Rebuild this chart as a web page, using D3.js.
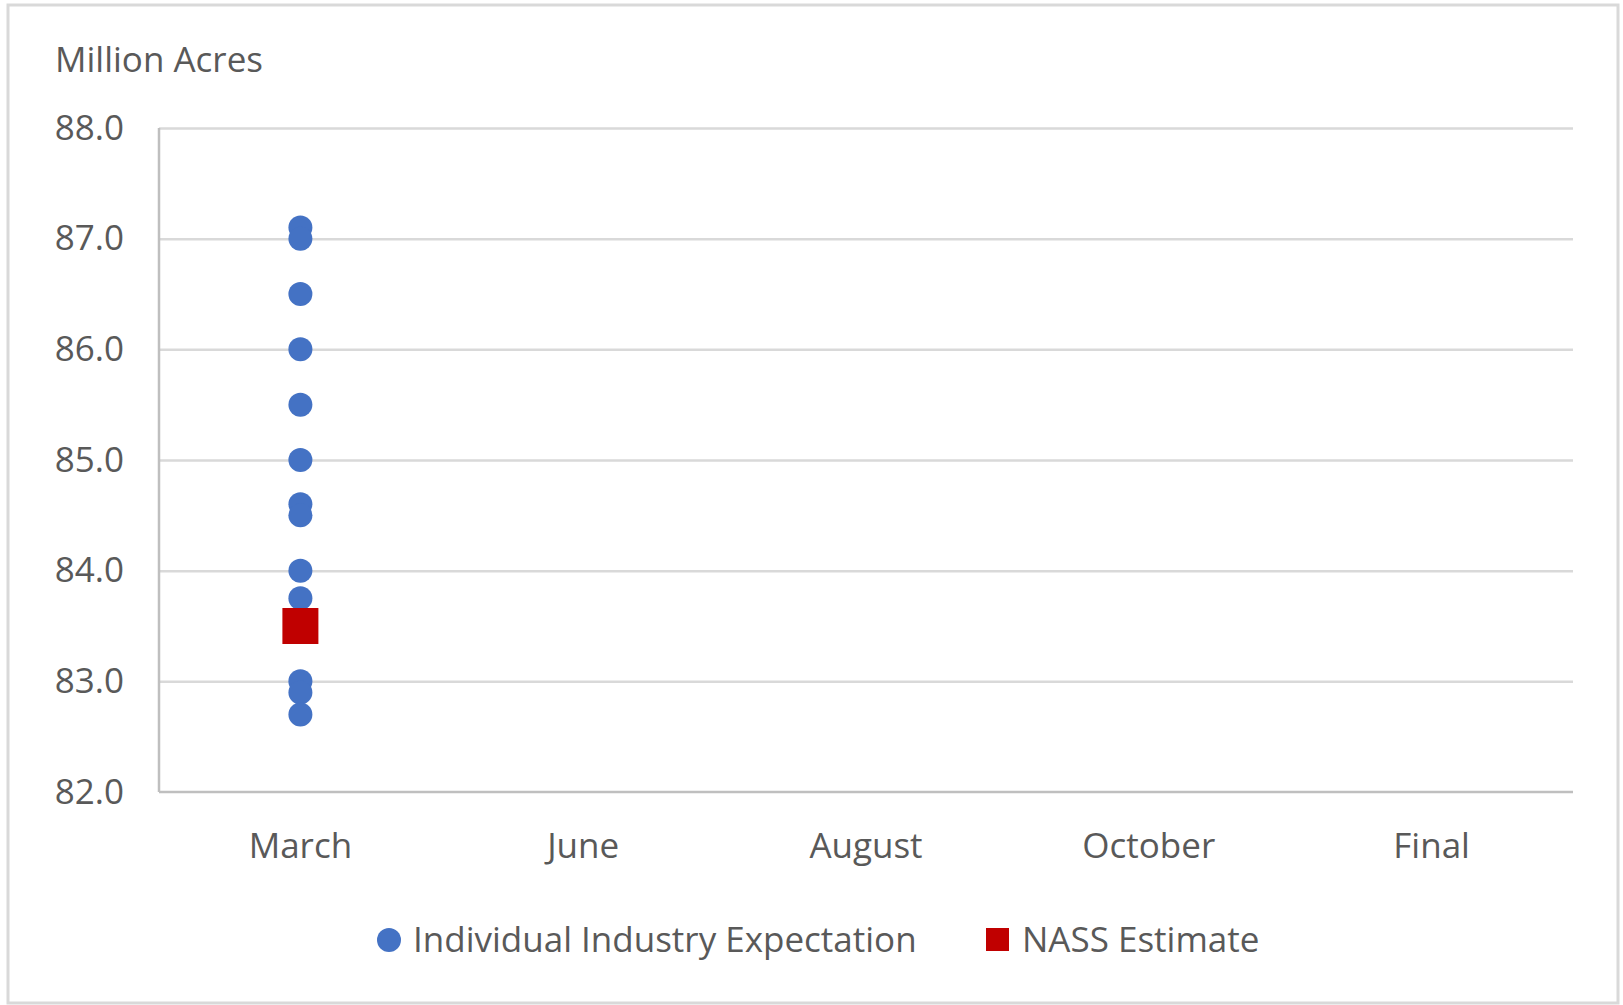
<!DOCTYPE html>
<html>
<head>
  <meta charset="utf-8">
  <title>Million Acres - industry expectations vs NASS</title>
  <style>
  body {
    margin: 0px;
    background: #fff;
  }
  text {
    font-family: "Open Sans", sans-serif;
    fill: #595959;
  }
  .grid line {
    stroke: #d9d9d9;
    stroke-width: 2.5px;
  }
  .axis-line {
    stroke: #bfbfbf;
    stroke-width: 2.5px;
  }
  </style>
</head>
<body>
  <svg width="1623" height="1005"></svg>
  <script src="https://d3js.org/d3.v7.min.js"></script>
  <script>
  // values
  var categories = ["March", "June", "August", "October", "Final"];
  var expectations = [87.1, 87.0, 86.5, 86.0, 85.5, 85.0, 84.6, 84.5, 84.0, 83.75, 83.0, 82.9, 82.7];
  var expectationMonth = "March";
  var nassMonths = ["March"];
  var nassValues = [83.5];
  var yTicks = [82, 83, 84, 85, 86, 87, 88];

  var svg = d3.select("svg");
  var plotLeft = 159, plotRight = 1573, plotTop = 128, plotBottom = 792;

  // outer chart border
  svg.append("rect")
    .attr("x", 8).attr("y", 5)
    .attr("width", 1610).attr("height", 998)
    .attr("fill", "#fff")
    .attr("stroke", "#d9d9d9")
    .attr("stroke-width", 3);

  var x = d3.scaleBand().domain(categories).range([plotLeft, plotRight]);
  var y = d3.scaleLinear().domain([82, 88]).range([plotBottom, plotTop]);

  var gy = svg.append("g")
    .attr("class", "grid")
    .attr("transform", "translate(" + plotLeft + ",0)")
    .call(d3.axisLeft(y)
      .tickValues(yTicks)
      .tickFormat(d3.format(".1f"))
      .tickSize(-(plotRight - plotLeft))
      .tickPadding(35));
  gy.select(".domain").remove();
  gy.attr("font-family", null).attr("font-size", null);
  gy.selectAll("text").attr("font-size", 35).attr("fill", "#595959");
  gy.selectAll(".tick").filter(function(d) { return d == 82; }).select("line").remove();

  // axis lines
  svg.append("line").attr("class", "axis-line")
    .attr("x1", plotLeft).attr("x2", plotLeft).attr("y1", plotTop).attr("y2", plotBottom);
  svg.append("line").attr("class", "axis-line")
    .attr("x1", plotLeft).attr("x2", plotRight).attr("y1", plotBottom).attr("y2", plotBottom);

  // category labels
  svg.selectAll(".xlabel")
    .data(categories)
    .enter()
    .append("text")
    .attr("class", "xlabel")
    .attr("x", function(d) { return x(d) + x.bandwidth() / 2; })
    .attr("y", 858)
    .attr("text-anchor", "middle")
    .attr("font-size", 35)
    .text(function(d) { return d; });

  // y title
  svg.append("text")
    .attr("x", 55).attr("y", 72)
    .attr("font-size", 35)
    .text("Million Acres");

  // expectation dots
  svg.selectAll(".dot")
    .data(expectations)
    .enter()
    .append("circle")
    .attr("class", "dot")
    .attr("cx", x(expectationMonth) + x.bandwidth() / 2)
    .attr("cy", function(d) { return y(d); })
    .attr("r", 12)
    .attr("fill", "#4472c4");

  // NASS estimate
  var s = 36;
  svg.selectAll(".nass")
    .data(nassValues)
    .enter()
    .append("rect")
    .attr("class", "nass")
    .attr("x", function(d, i) { return x(nassMonths[i]) + x.bandwidth() / 2 - s / 2; })
    .attr("y", function(d) { return y(d) - s / 2; })
    .attr("width", s)
    .attr("height", s)
    .attr("fill", "#c00000");

  // legend
  var legend = svg.append("g");
  legend.append("circle")
    .attr("cx", 389).attr("cy", 940).attr("r", 12)
    .attr("fill", "#4472c4");
  legend.append("text")
    .attr("x", 413).attr("y", 952)
    .attr("font-size", 35)
    .text("Individual Industry Expectation");
  legend.append("rect")
    .attr("x", 986).attr("y", 928).attr("width", 23).attr("height", 23)
    .attr("fill", "#c00000");
  legend.append("text")
    .attr("x", 1022).attr("y", 952)
    .attr("font-size", 35)
    .text("NASS Estimate");
  </script>
</body>
</html>
